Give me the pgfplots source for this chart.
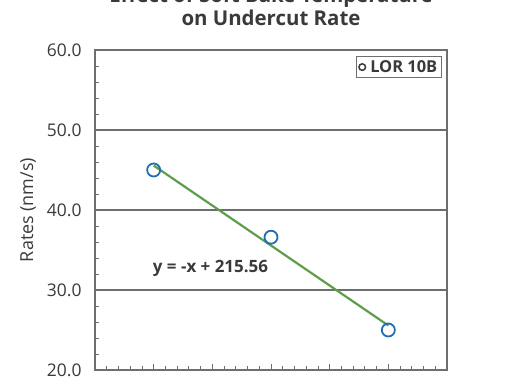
\documentclass[border=0pt]{standalone}
\usepackage{pgfplots}
\pgfplotsset{compat=1.18}
\usepackage{fontspec}
\setmainfont{Open Sans}
\definecolor{ptblue}{HTML}{1F6DB3}
\definecolor{fitgreen}{HTML}{5E9E4A}
\definecolor{axgray}{HTML}{6E6E6E}
\definecolor{txt}{HTML}{3A3A3A}
\begin{document}
\begin{tikzpicture}
\begin{axis}[name=ax, scale only axis, width=352bp, height=320bp,
 xmin=165, xmax=195, ymin=20, ymax=60,
 xtick={165,170,...,195}, minor x tick num=4, xticklabels={},
 ytick={20,30,...,60}, minor y tick num=4,
 tick align=inside, xtick pos=bottom, ytick pos=left,
 major tick length=6bp, minor tick length=4bp,
 ymajorgrids, grid style={axgray, line width=1.2bp},
 axis line style={axgray, line width=1.2bp},
 tick style={axgray, line width=0.8bp},
 yticklabel={\pgfmathprintnumber[fixed,fixed zerofill,precision=1,assume math mode=true]{\tick}},
 yticklabel style={font=\fontsize{17.5}{17.5}\selectfont, text=txt, xshift=-10bp},
 ylabel={Rates (nm/s)},
 ylabel style={at={(axis description cs:-0.19,0.5)}, anchor=center, font=\fontsize{18}{18}\selectfont, text=txt},
 legend style={at={(axis description cs:0.985,0.98)}, anchor=north east, draw=axgray, line width=1bp,
   font=\bfseries\fontsize{16.5}{16.5}\selectfont, text=txt, inner xsep=2bp, inner ysep=1.5bp},
 legend image code/.code={\path[draw=none,fill=none] (0,0) -- (10bp,0); \draw[txt, line width=1.5bp, fill=none] (4bp,0) circle (3.3bp);},
]
\addplot[only marks, mark=o, mark size=6.5bp, mark options={ptblue, line width=1.8bp}]
 coordinates {(170,45.0) (180,36.6) (190,25.0)};
\addlegendentry{LOR 10B}
\addplot[fitgreen, line width=2.2bp, forget plot] coordinates {(170,45.56) (190,25.56)};
\node[font=\bfseries\fontsize{17}{17}\selectfont, text=txt] at (axis cs:174.84,32.75) {y = -x + 215.56};
\end{axis}
\node[font=\bfseries\fontsize{20.5}{20.5}\selectfont, text=txt, anchor=base, inner sep=0pt] at ([yshift=24bp]ax.north) {on Undercut Rate};
\node[font=\bfseries\fontsize{20.5}{20.5}\selectfont, text=txt, anchor=base, inner sep=0pt] at ([yshift=47bp]ax.north) {Effect of Soft Bake Temperature};
\pgfresetboundingbox
\useasboundingbox ([shift={(-95bp,-12bp)}]ax.south west) rectangle ([shift={(63bp,50bp)}]ax.north east);
\end{tikzpicture}
\end{document}
